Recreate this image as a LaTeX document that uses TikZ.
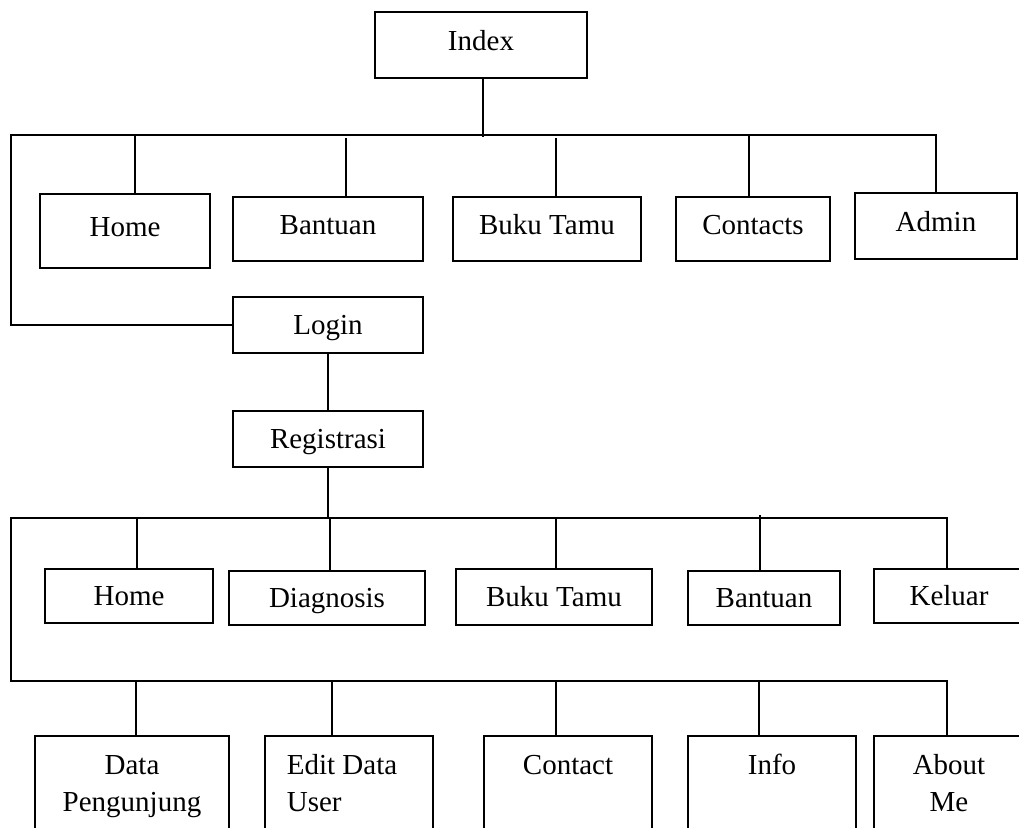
\documentclass[tikz,border=0pt]{standalone}
\usepackage{fontspec}
\setmainfont{Liberation Serif}
\begin{document}
\begin{tikzpicture}[x=1pt,y=-1pt,
  box/.style={draw,line width=2pt,inner sep=0pt,
    font=\fontsize{29}{37}\selectfont,
    text height=26pt,text depth=7pt},
  boxup/.style={box,text height=18pt,text depth=7pt},
  boxtop/.style={draw,line width=2pt,inner sep=0pt,anchor=north,
    font=\fontsize{29}{37}\selectfont,align=center,
    minimum height=120pt,text height=38.6pt,text depth=81.4pt},
  boxtoptwo/.style={boxtop,text height=75.6pt,text depth=44.4pt},
  wire/.style={line width=2pt}]
\useasboundingbox (0,0) rectangle (1019,827);
\clip (0,0) rectangle (1019,827);

% top level
\node[boxup,minimum width=212pt,minimum height=66pt] (index) at (481,45) {Index};

% first menu row
\node[boxup,minimum width=170pt,minimum height=74pt] (home1) at (125,231) {Home};
\node[boxup,minimum width=190pt,minimum height=64pt] (bant1) at (328,229) {Bantuan};
\node[boxup,minimum width=188pt,minimum height=64pt] (buku1) at (547,229) {Buku Tamu};
\node[boxup,minimum width=154pt,minimum height=64pt] (cont1) at (753,229) {Contacts};
\node[boxup,minimum width=162pt,minimum height=66pt] (admin) at (936,226) {Admin};

% login chain
\node[box,minimum width=190pt,minimum height=56pt] (login) at (328,325) {Login};
\node[box,minimum width=190pt,minimum height=56pt] (reg) at (328,439) {Registrasi};

% second menu row
\node[box,minimum width=168pt,minimum height=54pt] (home2) at (129,596) {Home};
\node[box,minimum width=196pt,minimum height=54pt] (diag) at (327,598) {Diagnosis};
\node[box,minimum width=196pt,minimum height=56pt] (buku2) at (554,597) {Buku Tamu};
\node[box,minimum width=152pt,minimum height=54pt] (bant2) at (764,598) {Bantuan};
\node[box,minimum width=150pt,minimum height=54pt] (keluar) at (949,596) {Keluar};

% third menu row
\node[boxtoptwo,minimum width=194pt] (datap) at (132,735) {Data\\Pengunjung};
\node[boxtoptwo,minimum width=168pt,align=left] (edit) at (349,735) {Edit Data\hspace*{14pt}\\User};
\node[boxtop,minimum width=168pt] (contact) at (568,735) {Contact};
\node[boxtop,minimum width=168pt] (info) at (772,735) {Info};
\node[boxtoptwo,minimum width=150pt] (about) at (949,735) {About\\Me};

% bus coordinates
\coordinate (b1L) at (11,135);
\coordinate (b1R) at (936,135);
\coordinate (ix) at (483,137);
\coordinate (t1) at (135,135);
\coordinate (t2) at (346,138);
\coordinate (t3) at (556,138);
\coordinate (t4) at (749,135);

\coordinate (b2L) at (11,518);
\coordinate (b2R) at (947,518);
\coordinate (u1) at (137,518);
\coordinate (u2) at (330,518);
\coordinate (u3) at (556,518);
\coordinate (u4) at (760,515);

\coordinate (b3L) at (11,681);
\coordinate (b3R) at (947,681);
\coordinate (v1) at (136,681);
\coordinate (v2) at (332,681);
\coordinate (v3) at (556,681);
\coordinate (v4) at (759,681);

% first level connectors
\draw[wire] (index.south -| ix) -- (ix);
\draw[wire] (login.west) -| (b1L) -- (b1R) -- (b1R |- admin.north);
\draw[wire] (t1) -- (t1 |- home1.north);
\draw[wire] (t2) -- (t2 |- bant1.north);
\draw[wire] (t3) -- (t3 |- buku1.north);
\draw[wire] (t4) -- (t4 |- cont1.north);

% login to registration
\draw[wire] (login.south) -- (reg.north);
\draw[wire] (reg.south) -- (reg.south |- b2L);

% second level connectors
\draw[wire] (b3R |- about.north) -- (b3R) -- (b3L) -- (b2L) -- (b2R) -- (b2R |- keluar.north);
\draw[wire] (u1) -- (u1 |- home2.north);
\draw[wire] (u2) -- (u2 |- diag.north);
\draw[wire] (u3) -- (u3 |- buku2.north);
\draw[wire] (u4) -- (u4 |- bant2.north);

% third level connectors
\draw[wire] (v1) -- (v1 |- datap.north);
\draw[wire] (v2) -- (v2 |- edit.north);
\draw[wire] (v3) -- (v3 |- contact.north);
\draw[wire] (v4) -- (v4 |- info.north);
\end{tikzpicture}
\end{document}
